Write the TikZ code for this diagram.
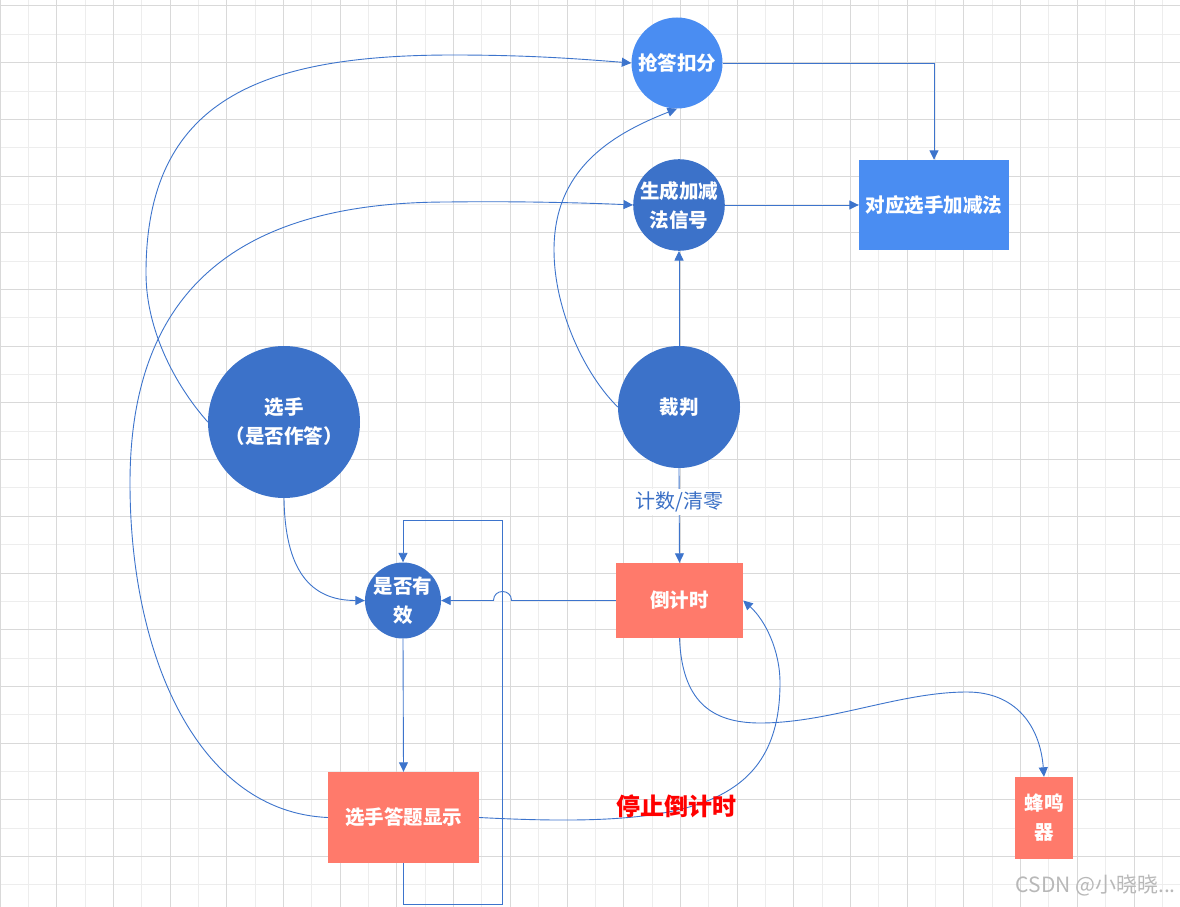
\documentclass[tikz,border=0pt]{standalone}
\usepackage{fontspec}
\setmainfont{Noto Sans CJK SC}
\usetikzlibrary{arrows.meta}
\definecolor{dblue}{HTML}{3C72C9}
\definecolor{lblue}{HTML}{4A8DF2}
\definecolor{salmon}{HTML}{FF7A6B}
\definecolor{edgeblue}{HTML}{3D74CC}
\definecolor{gridmin}{HTML}{EDEDED}
\definecolor{gridmaj}{HTML}{D9D9D9}
\definecolor{lblblue}{HTML}{3A6FC5}
\tikzset{
  ntext/.style={text=white, align=center, font=\fontsize{19.5}{29}\selectfont\bfseries, inner sep=0pt},
  dcirc/.style={circle, fill=dblue, ntext},
  lcirc/.style={circle, fill=lblue, ntext},
  lbox/.style={rectangle, fill=lblue, ntext},
  sbox/.style={rectangle, fill=salmon, ntext},
  conn/.style={draw=edgeblue, line width=0.9pt, -{Triangle[length=9.5pt,width=9pt]}},
}
\begin{document}
\begin{tikzpicture}[x=1pt,y=-1pt]
\useasboundingbox (0,0) rectangle (1180,907);
\fill[white] (0,0) rectangle (1180,907);
% grid
\foreach \i in {1,3,...,41} \draw[gridmin, line width=1pt] ({28.35*\i},0) -- ({28.35*\i},907);
\foreach \j in {1,3,...,31} \draw[gridmin, line width=1pt] (0,{6+28.35*\j}) -- (1180,{6+28.35*\j});
\foreach \i in {0,2,...,40} \draw[gridmaj, line width=1pt] ({28.35*\i},0) -- ({28.35*\i},907);
\foreach \j in {0,2,...,30} \draw[gridmaj, line width=1pt] (0,{6+28.35*\j}) -- (1180,{6+28.35*\j});

% nodes
\node[lcirc, minimum size=91pt] (qd) at (677,63) {抢答扣分};
\node[dcirc, minimum size=90pt] (sc) at (679,205) {生成加减\\法信号};
\node[lbox, minimum width=150pt, minimum height=90pt] (dy) at (934,205) {对应选手加减法};
\node[dcirc, minimum size=122pt] (cp) at (679,407) {裁判};
\node[dcirc, minimum size=152pt] (xs) at (284,422) {选手\\（是否作答）};
\node[dcirc, minimum size=76pt] (sf) at (403,600.5) {是否有\\效};
\node[sbox, minimum width=127pt, minimum height=75pt] (djs) at (679.5,600.5) {倒计时};
\node[sbox, minimum width=151pt, minimum height=91pt] (xd) at (403.5,817.5) {选手答题显示};
\node[sbox, minimum width=58pt, minimum height=82pt] (fm) at (1044,818) {蜂鸣\\器};

% coordinates
\coordinate (jr) at (511.5,600.5);
\coordinate (jl) at (493.5,600.5);
\coordinate (lp1) at (502,904);
\coordinate (lp2) at (502,520);

% straight connectors
\draw[conn] (qd.east) -| (dy.north);
\draw[conn] (sc.east) -- (dy.west);
\draw[conn] (cp.north) -- (sc.south);
\draw[conn] (cp.south) -- node[pos=0.36, fill=white, text=lblblue, font=\fontsize{20}{23}\selectfont, inner xsep=3pt, inner ysep=3pt] (lbl) {计数/清零} (djs.north);
\draw[conn] (djs.west) -- (jr) .. controls (511.5,588.5) and (493.5,588.5) .. (jl) -- (sf.east);
\draw[conn] (sf.south) -- (xd.north);
\draw[conn] (xd.south) |- (lp1) -- (lp2) -| (sf.north);

% curved connectors
\draw[conn] (xs.south) .. controls (285,570) and (310,600.5) .. (sf.west);
\draw[conn] (xs.180) .. controls (175,385) and (146,330) .. (146,273)
  .. controls (146,100) and (260,55) .. (453,55)
  .. controls (530,55) and (580,59) .. (qd.west);
\draw[conn] (xd.west) .. controls (200,812) and (130,660) .. (130,483)
  .. controls (130,280) and (250,202) .. (448,202)
  .. controls (520,201) and (590,203) .. (sc.west);
\draw[conn] (cp.west) .. controls (585,375) and (554,310) .. (554,250)
  .. controls (554,170) and (610,135) .. (qd.south);
\draw[conn] (xd.east) .. controls (680,828) and (780,810) .. (780,683)
  .. controls (780,650) and (765,620) .. (djs.east);
\draw[conn] (djs.south) .. controls (682,700) and (710,723) .. (760,723)
  .. controls (830,723) and (900,692) .. (967,692)
  .. controls (1015,692) and (1040,725) .. (fm.north);

% labels
\node[text=red, font=\fontsize{24}{28}\selectfont\bfseries, inner sep=0pt] (stop) at (676.5,806) {停止倒计时};
\node[text=black!28, font=\fontsize{21}{24}\selectfont, inner sep=0pt, anchor=east] (wm) at (1176,886) {CSDN @小晓晓...};
\end{tikzpicture}
\end{document}
